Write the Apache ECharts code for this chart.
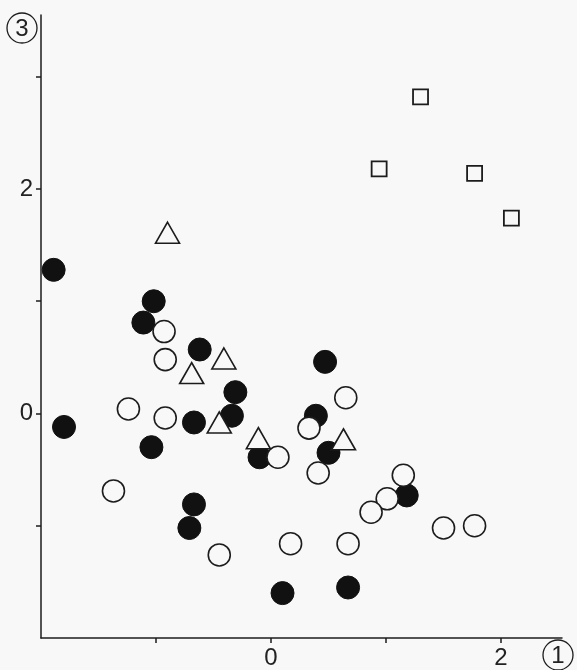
<!DOCTYPE html>
<html>
<head>
<meta charset="utf-8">
<script src="https://cdn.jsdelivr.net/npm/echarts@6/dist/echarts.min.js"></script>
<style>
  html, body { margin: 0; padding: 0; background: #f8f8f8; }
  #chart { width: 577px; height: 670px; }
</style>
</head>
<body>
<div id="chart"></div>
<script>
// 数据 [axis1, axis3]
const filledCircles = [
  [-1.89, 1.28], [-1.02, 1.00], [-1.11, 0.81], [-0.62, 0.57], [-0.31, 0.19],
  [-0.34, -0.02], [-0.67, -0.08], [-1.80, -0.12], [-1.04, -0.30], [-0.10, -0.39],
  [0.47, 0.46], [0.39, -0.02], [0.50, -0.35], [1.18, -0.73], [-0.67, -0.81],
  [-0.71, -1.02], [0.10, -1.60], [0.67, -1.55]
];
const openCircles = [
  [-0.93, 0.73], [-0.92, 0.48], [-1.24, 0.04], [-0.92, -0.04], [0.06, -0.39],
  [0.65, 0.14], [0.33, -0.13], [0.41, -0.53], [1.15, -0.55], [1.01, -0.76],
  [0.87, -0.88], [1.50, -1.02], [1.77, -1.00], [0.17, -1.16], [0.67, -1.16],
  [-1.37, -0.69], [-0.45, -1.26]
];
const triangles = [
  [-0.90, 1.61], [-0.41, 0.49], [-0.69, 0.36], [-0.45, -0.08], [-0.11, -0.22], [0.63, -0.23]
];
const squares = [
  [1.30, 2.82], [0.94, 2.18], [1.77, 2.14], [2.09, 1.74]
];
// 刻度
const xTicks = [-1, 0, 1, 2];
const xLabels = [0, 2];
const yTicks = [-1, 0, 1, 2, 3];
const yLabels = [0, 2];

const ink = '#1c1c1c';
const bg = '#f8f8f8';
const font = '"Liberation Sans Narrow", "Liberation Sans", Arial, sans-serif';

const chart = echarts.init(document.getElementById('chart'));

function axisStyle(ticks, labels) {
  return {
    type: 'value',
    axisLine: { onZero: false, lineStyle: { color: ink, width: 1.5 } },
    axisTick: { show: true, length: 5, customValues: ticks, lineStyle: { color: ink, width: 1.5 } },
    axisLabel: {
      customValues: labels,
      color: '#222',
      fontFamily: font,
      fontSize: 24,
      margin: 8
    },
    splitLine: { show: false }
  };
}

chart.setOption({
  backgroundColor: bg,
  animation: false,
  grid: { left: 41, right: 15, top: 15, bottom: 31, containLabel: false },
  xAxis: Object.assign(axisStyle(xTicks, xLabels), { min: -2, max: 2.53 }),
  yAxis: Object.assign(axisStyle(yTicks, yLabels), { min: -2, max: 3.55 }),
  series: [
    {
      type: 'scatter', data: filledCircles, symbol: 'circle', symbolSize: 23,
      itemStyle: { color: '#111', borderColor: '#111', borderWidth: 1, opacity: 1 }
    },
    {
      type: 'scatter', data: openCircles, symbol: 'circle', symbolSize: 22,
      itemStyle: { color: bg, borderColor: ink, borderWidth: 1.6, opacity: 1 }
    },
    {
      type: 'scatter', data: triangles, symbol: 'triangle', symbolSize: [24, 21],
      itemStyle: { color: bg, borderColor: ink, borderWidth: 1.6, opacity: 1 }
    },
    {
      type: 'scatter', data: squares, symbol: 'rect', symbolSize: 15,
      itemStyle: { color: bg, borderColor: ink, borderWidth: 1.8, opacity: 1 }
    }
  ],
  graphic: [
    // 轴名 ③
    { type: 'circle', shape: { cx: 22, cy: 28, r: 15 }, style: { fill: 'none', stroke: ink, lineWidth: 1.3 } },
    { type: 'text', x: 22, y: 29, style: { text: '3', fill: '#222', fontSize: 24, fontFamily: font, align: 'center', verticalAlign: 'middle' } },
    // 轴名 ①
    { type: 'circle', shape: { cx: 558, cy: 655, r: 15 }, style: { fill: 'none', stroke: ink, lineWidth: 1.3 } },
    { type: 'text', x: 558, y: 656, style: { text: '1', fill: '#222', fontSize: 24, fontFamily: font, align: 'center', verticalAlign: 'middle' } }
  ]
});
</script>
</body>
</html>
